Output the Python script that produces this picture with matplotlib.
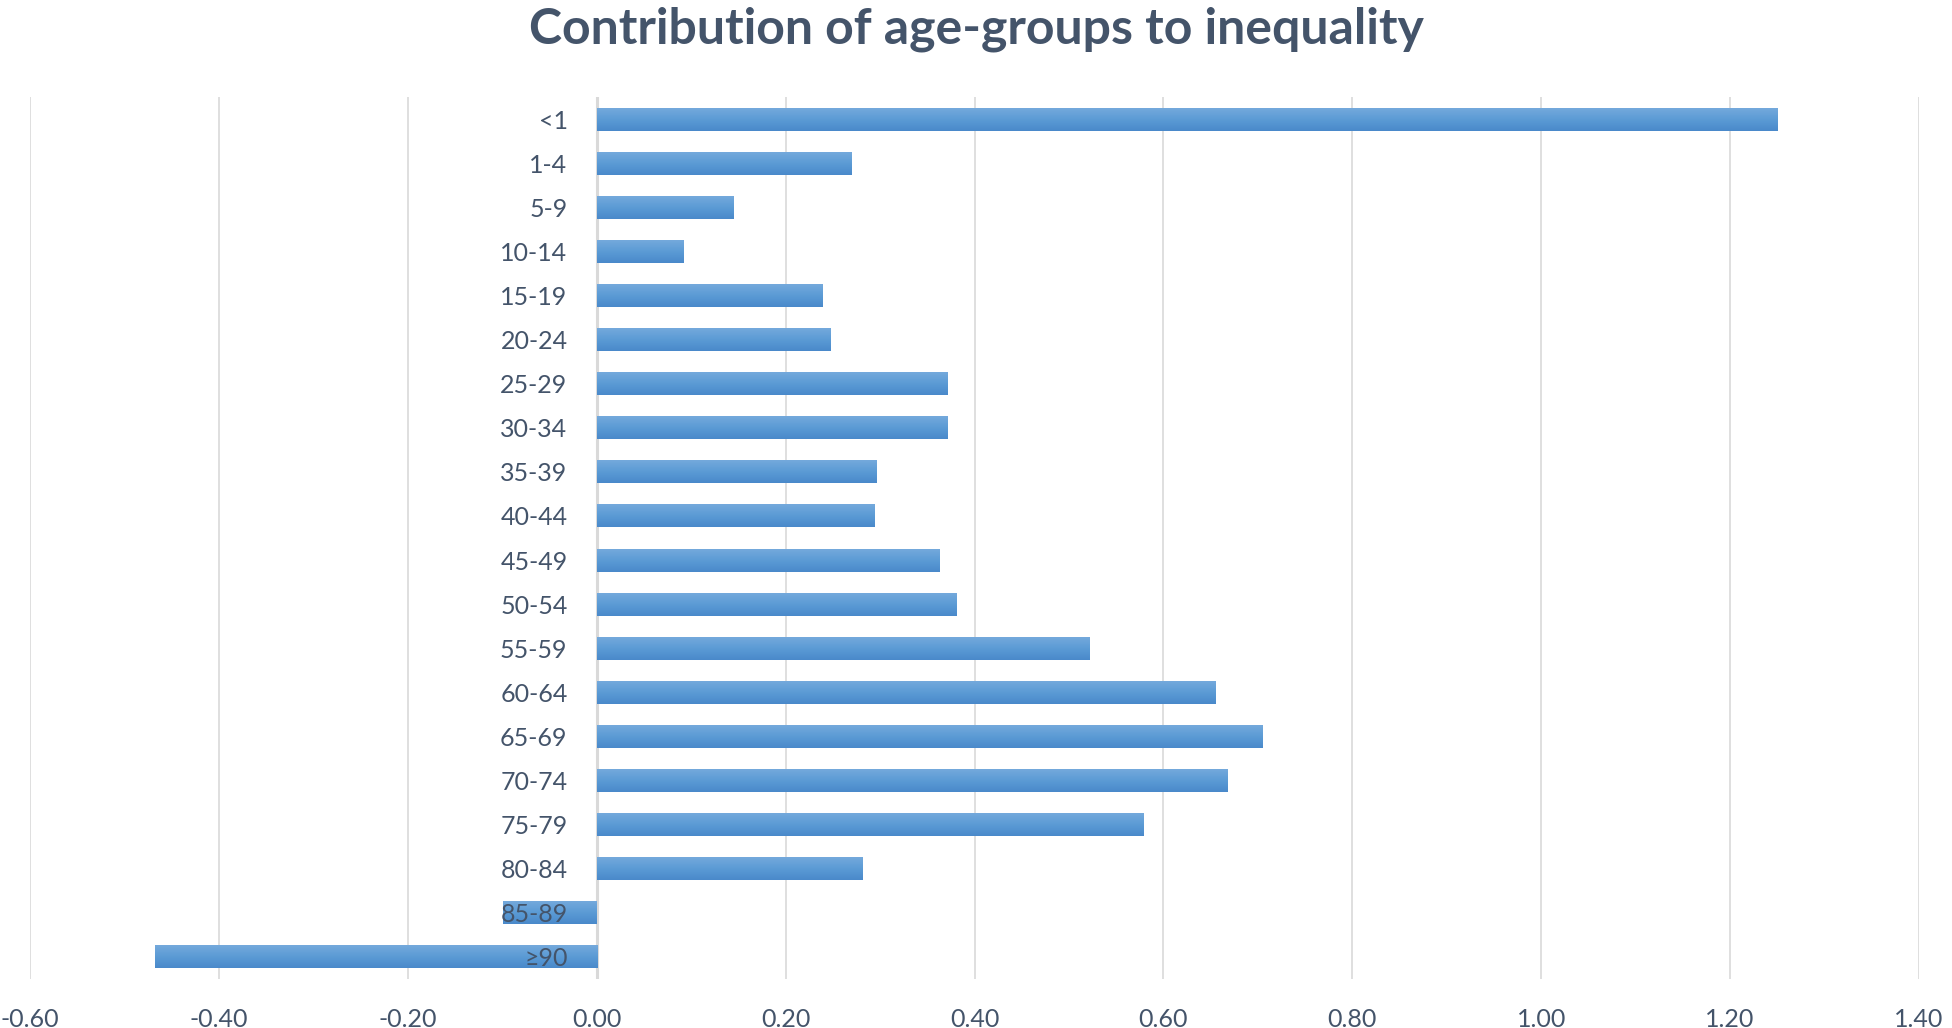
import matplotlib
matplotlib.use("Agg")
import matplotlib.pyplot as plt
import numpy as np
from matplotlib.colors import LinearSegmentedColormap

age_groups = ["<1", "1-4", "5-9", "10-14", "15-19", "20-24", "25-29", "30-34",
              "35-39", "40-44", "45-49", "50-54", "55-59", "60-64", "65-69",
              "70-74", "75-79", "80-84", "85-89", "≥90"]
contribution = [1.250, 0.269, 0.145, 0.092, 0.239, 0.247, 0.371, 0.371,
                0.296, 0.294, 0.363, 0.381, 0.521, 0.655, 0.705,
                0.668, 0.579, 0.281, -0.099, -0.468]
x_ticks = [-0.6, -0.4, -0.2, 0.0, 0.2, 0.4, 0.6, 0.8, 1.0, 1.2, 1.4]

text_color = "#44546A"
grid_color = "#D9D9D9"

plt.rcParams["font.family"] = ["Lato", "DejaVu Sans"]

fig = plt.figure(figsize=(19.52, 10.28), dpi=100)
ax = fig.add_axes([30 / 1952, 49 / 1028, 1889 / 1952, 882 / 1028])

pos = np.arange(len(age_groups))
bars = ax.barh(pos, contribution, height=0.52, color="#5B9BD5", zorder=2)

# Excel-like vertical gradient on each bar: lighter on top, darker below
grad = LinearSegmentedColormap.from_list("bar", ["#74A9DC", "#5B9BD5", "#4A89CA"])
ramp = np.linspace(0, 1, 64).reshape(-1, 1)
for b in bars:
    x0, y0, w, h = b.get_x(), b.get_y(), b.get_width(), b.get_height()
    ax.imshow(ramp, cmap=grad, aspect="auto", origin="upper",
              extent=[x0, x0 + w, y0 + h, y0], zorder=3)

ax.set_xlim(-0.6, 1.4)
ax.set_ylim(len(age_groups) - 0.5, -0.5)
ax.set_xticks(x_ticks)
ax.set_xticklabels([f"{v:.2f}" for v in x_ticks])
ax.grid(axis="x", color=grid_color, linewidth=1.2, zorder=0)
ax.axvline(0, color=grid_color, linewidth=2.2, zorder=1)

ax.set_yticks(pos)
ax.set_yticklabels(age_groups)
ax.spines["left"].set_position(("data", 0))
for side in ["left", "right", "top", "bottom"]:
    ax.spines[side].set_visible(False)

ax.tick_params(axis="y", length=0, pad=21, labelsize=18, labelcolor=text_color)
ax.tick_params(axis="x", length=0, pad=21, labelsize=18, labelcolor=text_color)
ax.yaxis.set_zorder(5)

fig.text(0.5, 1 - 29 / 1028, "Contribution of age-groups to inequality",
         ha="center", va="center", fontsize=36, fontweight="bold",
         color=text_color)

fig.savefig("out.png", dpi=100)
